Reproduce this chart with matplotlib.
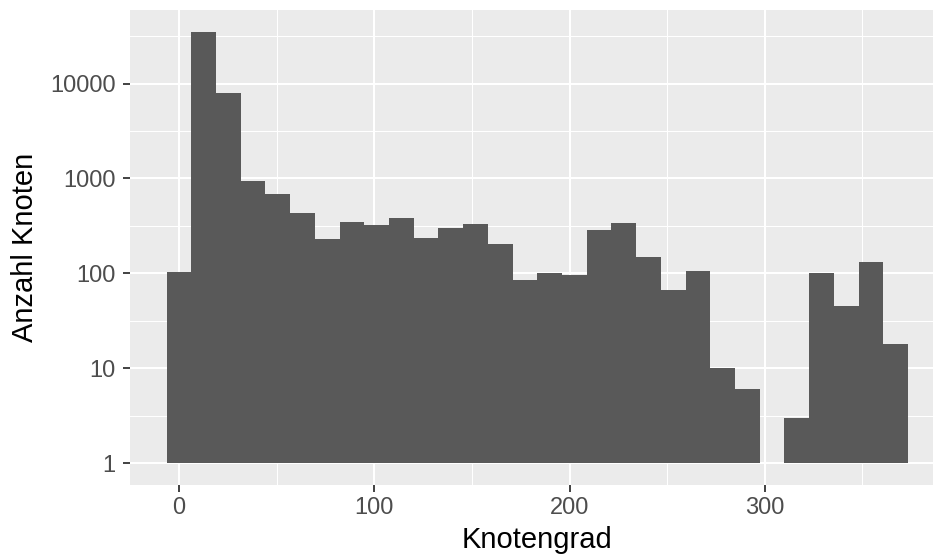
import matplotlib
matplotlib.use("Agg")
import matplotlib.pyplot as plt
import numpy as np
from matplotlib.ticker import FixedLocator, FixedFormatter, NullFormatter

# Histogram of node degree (30 bins), counts per bin
max_degree = 367
n_bins = 30
counts = np.array([104, 35100, 7980, 944, 689, 434, 231, 349, 324, 385,
                   237, 301, 332, 204, 85, 101, 96, 287, 340, 149,
                   67, 106, 10, 6, 0, 3, 101, 45, 132, 18])

x_ticks = [0, 100, 200, 300]
x_minor = [50, 150, 250, 350]
y_ticks = [1, 10, 100, 1000, 10000]
y_tick_labels = ["1", "10", "100", "1000", "10000"]

x_label = "Knotengrad"
y_label = "Anzahl Knoten"

plt.rcParams["font.family"] = ["Liberation Sans", "DejaVu Sans"]

binwidth = max_degree / (n_bins - 1)
centers = np.arange(n_bins) * binwidth

W, H = 933, 556
fig = plt.figure(figsize=(W / 100, H / 100), dpi=100)
left, right, top, bottom = 129.6, 945.0, 10.3, 484.6
ax = fig.add_axes([left / W, 1 - bottom / H, (right - left) / W, (bottom - top) / H])
ax.set_facecolor("#EBEBEB")

mask = counts > 0
ax.bar(centers[mask], counts[mask] - 1, width=binwidth, bottom=1,
       color="#595959", linewidth=0, zorder=3)
ax.set_yscale("log")

# ggplot-like 5% expansion on both axes
xmin, xmax = centers[0] - binwidth / 2, centers[-1] + binwidth / 2
pad = 0.05 * (xmax - xmin)
ax.set_xlim(xmin - pad, xmax + pad)
ltop = np.log10(counts.max())
ax.set_ylim(10 ** (-0.05 * ltop), 10 ** (1.05 * ltop))

ax.xaxis.set_major_locator(FixedLocator(x_ticks))
ax.xaxis.set_minor_locator(FixedLocator(x_minor))
ax.yaxis.set_major_locator(FixedLocator(y_ticks))
ax.yaxis.set_major_formatter(FixedFormatter(y_tick_labels))
ax.yaxis.set_minor_locator(FixedLocator([10 ** (k + 0.5) for k in range(-1, 5)]))
ax.xaxis.set_minor_formatter(NullFormatter())
ax.yaxis.set_minor_formatter(NullFormatter())

ax.grid(which="major", color="white", linewidth=1.5, zorder=1)
ax.grid(which="minor", color="white", linewidth=0.75, zorder=1)
ax.set_axisbelow(True)

for s in ax.spines.values():
    s.set_visible(False)

ax.tick_params(which="major", length=5, width=1.3, color="#333333",
               labelsize=17, labelcolor="#4D4D4D")
ax.tick_params(axis="x", which="major", pad=4)
ax.tick_params(axis="y", which="major", pad=5)
ax.tick_params(which="minor", length=0)

ax.set_xlabel(x_label, fontsize=21, color="black")
ax.set_ylabel(y_label, fontsize=21, color="black")
ax.xaxis.set_label_coords(537.4 / W, 1 - 540 / H, transform=fig.transFigure)
ax.yaxis.set_label_coords(25 / W, 1 - 247 / H, transform=fig.transFigure)
ax.xaxis.label.set_verticalalignment("center")
ax.yaxis.label.set_verticalalignment("center")
ax.yaxis.label.set_horizontalalignment("center")

fig.savefig("out.png", dpi=100)
